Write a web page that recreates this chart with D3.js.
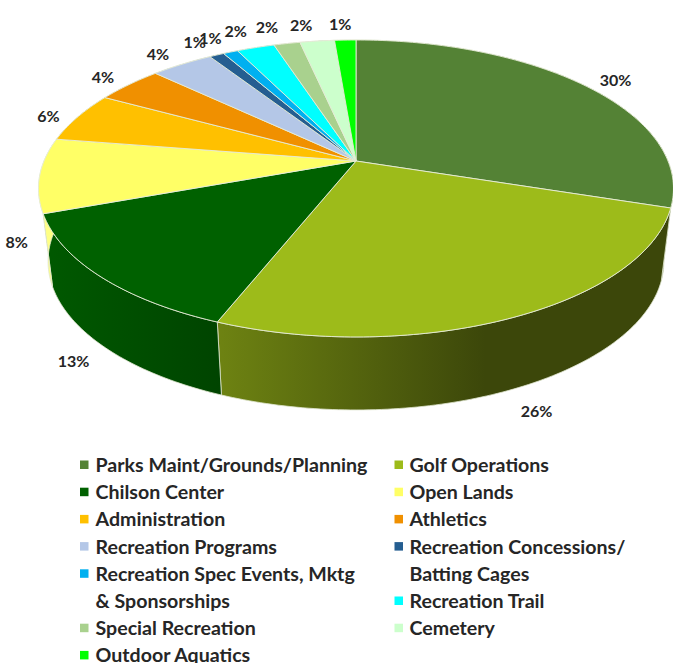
<!DOCTYPE html>
<html>
<head>
<meta charset="utf-8">
<script src="https://cdn.jsdelivr.net/npm/d3@7"></script>
<style>
  html, body { margin: 0; padding: 0; background: #fff; }
  text { font-family: Lato, sans-serif; font-weight: 700; fill: #262626; }
</style>
</head>
<body>
<svg id="chart" width="673" height="663"></svg>
<script>
// data
const categories = [
  'Parks Maint/Grounds/Planning', 'Golf Operations',
  'Chilson Center', 'Open Lands',
  'Administration', 'Athletics',
  'Recreation Programs', 'Recreation Concessions/\nBatting Cages',
  'Recreation Spec Events, Mktg\n& Sponsorships', 'Recreation Trail',
  'Special Recreation', 'Cemetery',
  'Outdoor Aquatics'
]
const values = [30, 26, 13.4, 8.1, 5.5, 4.1, 3.8, 0.9, 0.9, 2.3, 1.6, 2.1, 1.3]
const percentLabels = ['30%', '26%', '13%', '8%', '6%', '4%', '4%', '1%', '1%', '2%', '2%', '2%', '1%']
const colors = [
  '#548235', '#9dbb1a', '#006100', '#ffff66', '#ffc000', '#f09000', '#b4c7e7',
  '#255e91', '#00b0f0', '#00ffff', '#a9d18e', '#ccffcc', '#00ff00'
]

// layout
const WIDTH = 673
const CX = 356, CY = 161      // apex of the pie
const RX = 312, RY = 143.4    // disc radii before perspective
const K = 0.185               // perspective strength
const DEPTH = 73              // wall height
const BOTTOM_SCALE = 0.97     // lower rim is a bit narrower
// label offset from the middle of the slice on the top rim
const labelOffsets = [[32, -5], [21, 94], [-26, 85], [-23, 66], [-29, -2], [-26, -8], [-24, -11],
  [-22, -14], [-20, -15], [-20, -17], [-20, -17], [-16, -17], [-5, -17]]
// how much each wall darkens from left to right
const wallShades = { 1: [1, 2.7, 0.59], 2: [0.25, 1, 1], 3: [-0.8, -0.6, 1] }

const svg = d3.select('#chart')
const defs = svg.append('defs')

// project an angle on the disc to the screen
const project = a => {
  const u = Math.sin(a), v = -Math.cos(a)
  const w = 1 / (1 - K * v)
  return [CX + RX * u * w, CY + RY * v * w]
}
const lower = ([x, y]) => [CX + (x - CX) * BOTTOM_SCALE, y + DEPTH]

const slices = d3.pie().sort(null).value(d => d)(values)
const arcPoints = d => {
  const n = Math.max(2, Math.ceil((d.endAngle - d.startAngle) * 60))
  return d3.range(n + 1).map(i => project(d.startAngle + (d.endAngle - d.startAngle) * i / n))
}
const line = d3.line()

// walls first, the top faces cover whatever is behind them
const walls = svg.append('g')
slices.forEach((d, i) => {
  const rim = arcPoints(d)
  const outline = rim.concat(rim.map(lower).reverse())
  const xs = d3.extent(outline, p => p[0])
  const [light, dark, stop] = wallShades[i] || [1, 2, 1]
  const id = 'wall' + i
  const grad = defs.append('linearGradient').attr('id', id)
    .attr('gradientUnits', 'userSpaceOnUse')
    .attr('x1', xs[0]).attr('x2', xs[1]).attr('y1', 0).attr('y2', 0)
  grad.append('stop').attr('offset', 0).attr('stop-color', d3.color(colors[i]).darker(light))
  grad.append('stop').attr('offset', stop).attr('stop-color', d3.color(colors[i]).darker(dark))
  walls.append('path')
    .attr('d', line(outline) + 'Z')
    .attr('fill', `url(#${id})`)
    .attr('stroke', '#dfe6cf')
    .attr('stroke-width', 0.8)
})

// top faces
svg.append('g').selectAll('path')
  .data(slices)
  .join('path')
  .attr('d', d => line([[CX, CY]].concat(arcPoints(d))) + 'Z')
  .attr('fill', (d, i) => colors[i])
  .attr('stroke', '#e6ecd8')
  .attr('stroke-width', 0.9)
  .attr('stroke-linejoin', 'round')

// percent labels
svg.append('g').selectAll('text')
  .data(slices)
  .join('text')
  .attr('text-anchor', 'middle')
  .attr('dominant-baseline', 'central')
  .attr('font-size', 16)
  .attr('x', (d, i) => project((d.startAngle + d.endAngle) / 2)[0] + labelOffsets[i][0])
  .attr('y', (d, i) => project((d.startAngle + d.endAngle) / 2)[1] + labelOffsets[i][1])
  .text((d, i) => percentLabels[i])

// legend, two columns filled left then right
const LEGEND_TOP = 464.5, LINE_STEP = 27.2
const columns = [{ box: 80, text: 95.5, line: 0 }, { box: 394.5, text: 409.5, line: 0 }]
const legend = svg.append('g')
categories.forEach((name, i) => {
  const col = columns[i % 2]
  const y = LEGEND_TOP + col.line * LINE_STEP
  legend.append('rect')
    .attr('x', col.box).attr('y', y - 4)
    .attr('width', 8.5).attr('height', 8.5)
    .attr('fill', colors[i])
  name.split('\n').forEach(part => {
    legend.append('text')
      .attr('x', col.text)
      .attr('y', LEGEND_TOP + col.line * LINE_STEP)
      .attr('dominant-baseline', 'central')
      .attr('font-size', 19.6)
      .text(part)
    col.line += 1
  })
})
</script>
</body>
</html>
